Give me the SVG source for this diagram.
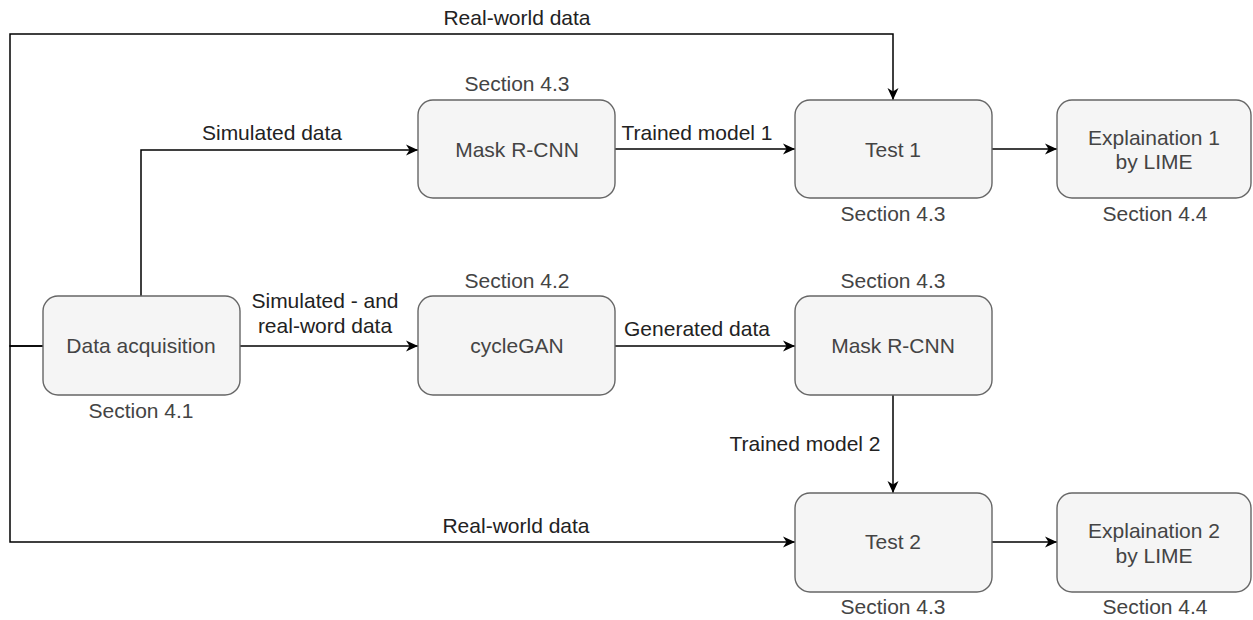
<svg xmlns="http://www.w3.org/2000/svg" width="1253" height="620" viewBox="0 0 1253 620">
  <style>
    .node rect { fill: #f5f5f5; stroke: #666666; stroke-width: 1.4; }
    .node text { font-family: "Liberation Sans", Arial, sans-serif; font-size: 21px; fill: #444444; text-anchor: middle; }
    .cap { font-family: "Liberation Sans", Arial, sans-serif; font-size: 21px; fill: #222222; text-anchor: middle; }
    .edge { fill: none; stroke: #000000; stroke-width: 1.5; }
    .arrow { marker-end: url(#head); }
  </style>
  <defs>
    <marker id="head" markerUnits="userSpaceOnUse" markerWidth="14" markerHeight="12" refX="12" refY="6" orient="auto">
      <path d="M0,0.5 L12,6 L0,11.5 L3.5,6 Z" fill="#000000"/>
    </marker>
  </defs>

  <rect width="1253" height="620" fill="#ffffff"/>

  <!-- connectors -->
  <g id="connectors">
    <path class="edge arrow" d="M43,346 H10 V34 H893 V100"/>
    <path class="edge arrow" d="M43,346 H10 V542 H795"/>
    <path class="edge arrow" d="M141,296 V150 H418"/>
    <path class="edge arrow" d="M240,346 H418"/>
    <path class="edge arrow" d="M615,149 H795"/>
    <path class="edge arrow" d="M992,149 H1057"/>
    <path class="edge arrow" d="M615,346 H795"/>
    <path class="edge arrow" d="M893,395 V493"/>
    <path class="edge arrow" d="M992,542 H1057"/>
  </g>

  <!-- connector labels -->
  <g id="edge-labels">
    <text class="cap" x="517" y="25">Real-world data</text>
    <text class="cap" x="272" y="140">Simulated data</text>
    <text class="cap" x="697" y="140">Trained model 1</text>
    <text class="cap" x="325" y="308">Simulated - and</text>
    <text class="cap" x="325" y="333">real-word data</text>
    <text class="cap" x="697" y="336">Generated data</text>
    <text class="cap" x="805" y="451">Trained model 2</text>
    <text class="cap" x="516" y="533">Real-world data</text>
  </g>

  <!-- nodes -->
  <g id="data-acquisition" class="node">
    <rect x="43" y="296" width="197" height="99" rx="15"/>
    <text x="141" y="353">Data acquisition</text>
    <text class="cap" x="141" y="418">Section 4.1</text>
  </g>

  <g id="mask-rcnn-1" class="node">
    <rect x="418" y="100" width="197" height="98" rx="15"/>
    <text x="517" y="157">Mask R-CNN</text>
    <text class="cap" x="517" y="91">Section 4.3</text>
  </g>

  <g id="test-1" class="node">
    <rect x="795" y="100" width="197" height="98" rx="15"/>
    <text x="893" y="157">Test 1</text>
    <text class="cap" x="893" y="221">Section 4.3</text>
  </g>

  <g id="explanation-1" class="node">
    <rect x="1057" y="100" width="194" height="98" rx="15"/>
    <text x="1154" y="145">Explaination 1</text>
    <text x="1154" y="169">by LIME</text>
    <text class="cap" x="1155" y="221">Section 4.4</text>
  </g>

  <g id="cyclegan" class="node">
    <rect x="418" y="296" width="197" height="99" rx="15"/>
    <text x="517" y="353">cycleGAN</text>
    <text class="cap" x="517" y="288">Section 4.2</text>
  </g>

  <g id="mask-rcnn-2" class="node">
    <rect x="795" y="296" width="197" height="99" rx="15"/>
    <text x="893" y="353">Mask R-CNN</text>
    <text class="cap" x="893" y="288">Section 4.3</text>
  </g>

  <g id="test-2" class="node">
    <rect x="795" y="493" width="197" height="99" rx="15"/>
    <text x="893" y="549">Test 2</text>
    <text class="cap" x="893" y="614">Section 4.3</text>
  </g>

  <g id="explanation-2" class="node">
    <rect x="1057" y="493" width="194" height="99" rx="15"/>
    <text x="1154" y="538">Explaination 2</text>
    <text x="1154" y="563">by LIME</text>
    <text class="cap" x="1155" y="614">Section 4.4</text>
  </g>
</svg>
